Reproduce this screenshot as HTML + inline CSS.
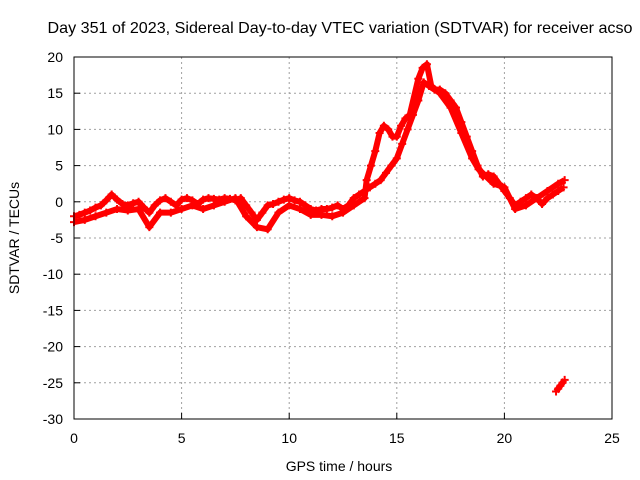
<!DOCTYPE html>
<html><head><meta charset="utf-8"><style>
body{margin:0;background:#fff}
svg{display:block;font-family:"Liberation Sans",sans-serif}
</style></head><body>
<svg id="chart" width="640" height="480" viewBox="0 0 640 480">
<rect x="0" y="0" width="640" height="480" fill="#fff"/>
<text x="340" y="33" font-size="16" text-anchor="middle" textLength="585" lengthAdjust="spacingAndGlyphs">Day 351 of 2023, Sidereal Day-to-day VTEC variation (SDTVAR) for receiver acso</text>
<text x="339" y="471" font-size="14" text-anchor="middle">GPS time / hours</text>
<text transform="translate(19,238) rotate(-90)" font-size="14" text-anchor="middle">SDTVAR / TECUs</text>
<g id="grid"></g>
<g id="ticks"></g>
<g id="series"></g>
<rect x="74" y="57" width="538" height="362" fill="none" stroke="#000" stroke-width="1"/>
</svg>
<script>
const xTicks=[0,5,10,15,20,25];
const yTicks=[20,15,10,5,0,-5,-10,-15,-20,-25,-30];
const trackATimes=[0,0.25,0.5,0.75,1,1.25,1.5,1.75,2,2.25,2.5,2.75,3,3.25,3.5,3.75,4,4.25,4.5,4.75,5,5.25,5.5,5.75,6,6.25,6.5,6.75,7,7.25,7.5,7.75,8,8.25,8.5,8.75,9,9.25,9.5,9.75,10,10.25,10.5,10.75,11,11.25,11.5,11.75,12,12.25,12.5,12.75,13,13.25,13.5,13.75,14,14.25,14.5,14.75,15,15.25,15.5,15.75,16,16.25,16.5,16.75,17,17.25,17.5,17.75,18,18.25,18.5,18.75,19,19.25,19.5,19.75,20,20.25,20.5,20.75,21,21.25,21.5,21.75,22,22.25,22.5,22.75];
const trackAValues=[-2,-1.8,-1.5,-1.2,-0.8,-0.5,0.2,1,0.3,-0.3,-0.5,-0.2,0,-0.8,-1.5,-0.5,0.2,0.5,0,-0.5,0.3,0.5,0.2,-0.3,0.3,0.5,0.4,0.3,0.5,0.4,0.2,0.5,-0.5,-1.5,-2.5,-1.5,-0.5,-0.3,0,0.3,0.5,0.2,0,-0.5,-1,-1.2,-1,-1,-0.8,-0.5,-1,-0.5,0.5,1,1.5,2,2.5,3,4,5,6,8,10,12,14,16.5,16,15.5,15.5,15,14,13,11,9,7,5,3.5,3.8,3.5,2.5,1.5,0.5,-0.5,0,0.5,1,0.5,-0.3,0.5,1,1.5,2];
const trackBTimes=[0,0.5,1,1.5,2,2.5,3,3.5,4,4.5,5,5.5,6,6.5,7,7.5,8,8.5,9,9.5,10,10.5,11,11.5,12,12.5,13,13.5,13.6,13.8,14,14.2,14.4,14.6,14.8,15,15.2,15.4,15.6,16,16.2,16.4,16.6,17,17.5,18,18.5,18.8,19.5,20,20.5,21,21.5,22,22.5,22.8];
const trackBValues=[-2.8,-2.5,-2,-1.5,-1,-1.2,-1,-3.5,-1.5,-1.5,-1,-0.5,-1,-0.5,0,0.5,-2,-3.5,-3.8,-1.5,-0.5,-1,-1.8,-1.8,-2,-1.5,-0.5,0.5,3,5,7,9.5,10.5,10,9,9,10.5,11.5,12,17,18.5,19,16,15,13,9.5,6,4.5,2.5,2,-1,-0.5,0.5,1.5,2.5,3];
const tailTimes=[22.4,22.5,22.6,22.7,22.8];
const tailValues=[-26.2,-25.8,-25.4,-25,-24.6];

const NS='http://www.w3.org/2000/svg';
const X=t=>74+t*538/25;
const Y=v=>57+(20-v)*362/50;
const grid=document.getElementById('grid'),ticks=document.getElementById('ticks'),series=document.getElementById('series');
function mk(tag,attrs,parent){const e=document.createElementNS(NS,tag);for(const k in attrs)e.setAttribute(k,attrs[k]);parent.appendChild(e);return e;}
xTicks.forEach(t=>{
  if(t>0&&t<25){const g=mk('line',{x1:X(t),x2:X(t),y1:57,y2:419,stroke:'#a0a0a0','stroke-dasharray':'2,3'},grid);
  
  }
  const tk=mk('line',{x1:X(t),x2:X(t),y1:419,y2:413,stroke:'#000'},ticks);
  
  
  const l=mk('text',{x:X(t),y:443,'font-size':14,'text-anchor':'middle'},ticks);l.textContent=t;
  
  
});
yTicks.forEach(v=>{
  if(v>-30&&v<20){const g=mk('line',{x1:74,x2:612,y1:Y(v),y2:Y(v),stroke:'#a0a0a0','stroke-dasharray':'2,3'},grid);
  
  }
  const tk=mk('line',{x1:74,x2:80,y1:Y(v),y2:Y(v),stroke:'#000'},ticks);
  
  
  const l=mk('text',{x:63,y:Y(v)+5,'font-size':14,'text-anchor':'end'},ticks);l.textContent=v;
  
  
});
function track(ts,vs,name){
  const pl=mk('polyline',{points:ts.map((t,i)=>X(t)+','+Y(vs[i])).join(' '),fill:'none',stroke:'#f00','stroke-width':6,'stroke-linejoin':'round'},series);
  
  
  ts.forEach((t,i)=>{
    const x=X(t),y=Y(vs[i]);
    const p=mk('path',{d:`M${x-4},${y}H${x+4}M${x},${y-4}V${y+4}`,stroke:'#f00','stroke-width':2},series);
    
    
  });
}
track(trackATimes,trackAValues,'track-a');
track(trackBTimes,trackBValues,'track-b');
track(tailTimes,tailValues,'tail');
</script>
</body></html>
